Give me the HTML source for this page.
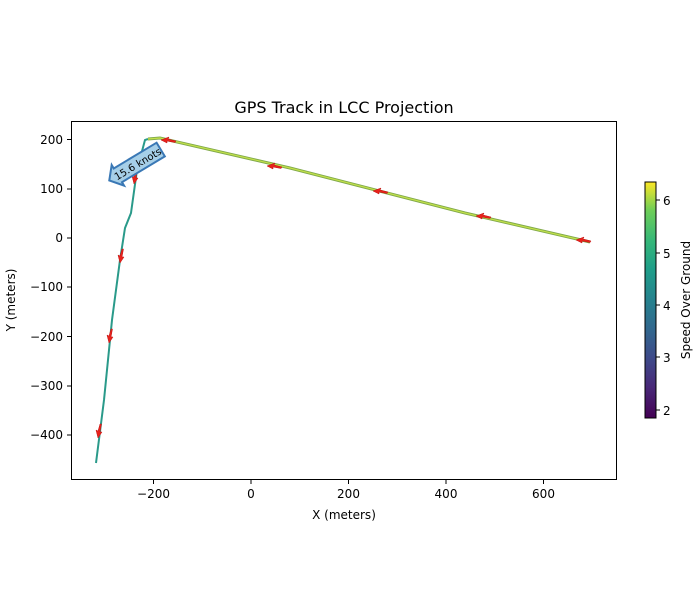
<!DOCTYPE html>
<html><head><meta charset="utf-8"><style>body{margin:0;background:#fff}svg{display:block}text{font-family:"DejaVu Sans","Liberation Sans",sans-serif;fill:#000}</style></head>
<body>
<svg width="700" height="600" viewBox="0 0 700 600" xmlns="http://www.w3.org/2000/svg">
<defs>
<linearGradient id="vir" x1="0" y1="1" x2="0" y2="0">
<stop offset="0" stop-color="#440154"/><stop offset="0.13" stop-color="#482878"/><stop offset="0.25" stop-color="#3e4989"/><stop offset="0.38" stop-color="#31688e"/><stop offset="0.5" stop-color="#26828e"/><stop offset="0.63" stop-color="#1f9e89"/><stop offset="0.75" stop-color="#35b779"/><stop offset="0.88" stop-color="#6ece58"/><stop offset="1" stop-color="#fde725"/>
</linearGradient>
</defs>
<text x="344" y="113" font-size="16" text-anchor="middle">GPS Track in LCC Projection</text>
<polyline points="96,463 104,400 112,320 120,260 125,228 131,213 137,170 145,140 148,139" fill="none" stroke="#2a9a8a" stroke-width="2"/>
<polyline points="148,139 160,138 290,168 465,213 590,242" fill="none" stroke="#7fa84a" stroke-width="3"/>
<polyline points="148,139 160,138 290,168 465,213 590,242" fill="none" stroke="#c2e04a" stroke-width="1.2"/>
<g fill="#e8221c" stroke="#c01010" stroke-width="0.5">
<polygon points="98,438 96,430 98,431 100,424 101.5,424 100,432 102,432"/>
<polygon points="109,343 107,335 109,336 111,329 112.5,329 111,337 113,337"/>
<polygon points="120,263 118,255 120,256 122,249 123.5,249 122,257 124,257"/>
<polygon points="134,184 132,176 134,177 136,170 137.5,170 136,178 138,178"/>
<polygon points="161,140 169,137 168,139 176,141 175,142.5 167,141 167,143"/>
<polygon points="267,166 275,163 274,165 282,167 281,168.5 273,167 273,169"/>
<polygon points="373,191 381,188 380,190 388,192 387,193.5 379,192 379,194"/>
<polygon points="476,216 484,213 483,215 491,217 490,218.5 482,217 482,219"/>
<polygon points="576,240 584,237 583,239 591,241 590,242.5 582,241 582,243"/>
</g>
<g transform="translate(135,165) rotate(-31)">
<polygon points="-30,0 -20,-12 -20,-8 30,-8 30,8 -20,8 -20,12" fill="#a6cfe8" stroke="#3a78b5" stroke-width="2"/>
<text x="3" y="4" font-size="10" text-anchor="middle">15.6 knots</text>
</g>
<rect x="71.5" y="121.5" width="545" height="358" fill="none" stroke="#000" stroke-width="1"/>
<g stroke="#000">
<line x1="153.5" y1="480" x2="153.5" y2="484"/><line x1="251" y1="480" x2="251" y2="484"/><line x1="348.5" y1="480" x2="348.5" y2="484"/><line x1="446" y1="480" x2="446" y2="484"/><line x1="543.5" y1="480" x2="543.5" y2="484"/>
<line x1="67" y1="139.5" x2="71" y2="139.5"/><line x1="67" y1="189" x2="71" y2="189"/><line x1="67" y1="238" x2="71" y2="238"/><line x1="67" y1="287" x2="71" y2="287"/><line x1="67" y1="336.5" x2="71" y2="336.5"/><line x1="67" y1="386" x2="71" y2="386"/><line x1="67" y1="435" x2="71" y2="435"/>
</g>
<g font-size="12" text-anchor="middle">
<text x="153.5" y="498">−200</text><text x="251" y="498">0</text><text x="348.5" y="498">200</text><text x="446" y="498">400</text><text x="543.5" y="498">600</text>
</g>
<g font-size="12" text-anchor="end">
<text x="63" y="144">200</text><text x="63" y="193">100</text><text x="63" y="242">0</text><text x="63" y="291">−100</text><text x="63" y="341">−200</text><text x="63" y="390">−300</text><text x="63" y="439">−400</text>
</g>
<text x="344" y="519" font-size="12" text-anchor="middle">X (meters)</text>
<text transform="translate(15,300) rotate(-90)" font-size="12" text-anchor="middle">Y (meters)</text>
<rect x="645" y="182" width="11" height="236" fill="url(#vir)" stroke="#000" stroke-width="1"/>
<g stroke="#000"><line x1="656" y1="200" x2="660" y2="200"/><line x1="656" y1="253" x2="660" y2="253"/><line x1="656" y1="305" x2="660" y2="305"/><line x1="656" y1="357" x2="660" y2="357"/><line x1="656" y1="410" x2="660" y2="410"/></g>
<g font-size="12"><text x="663" y="205">6</text><text x="663" y="258">5</text><text x="663" y="310">4</text><text x="663" y="362">3</text><text x="663" y="415">2</text></g>
<text transform="translate(690,300) rotate(-90)" font-size="12" text-anchor="middle">Speed Over Ground</text>
</svg>
</body></html>
